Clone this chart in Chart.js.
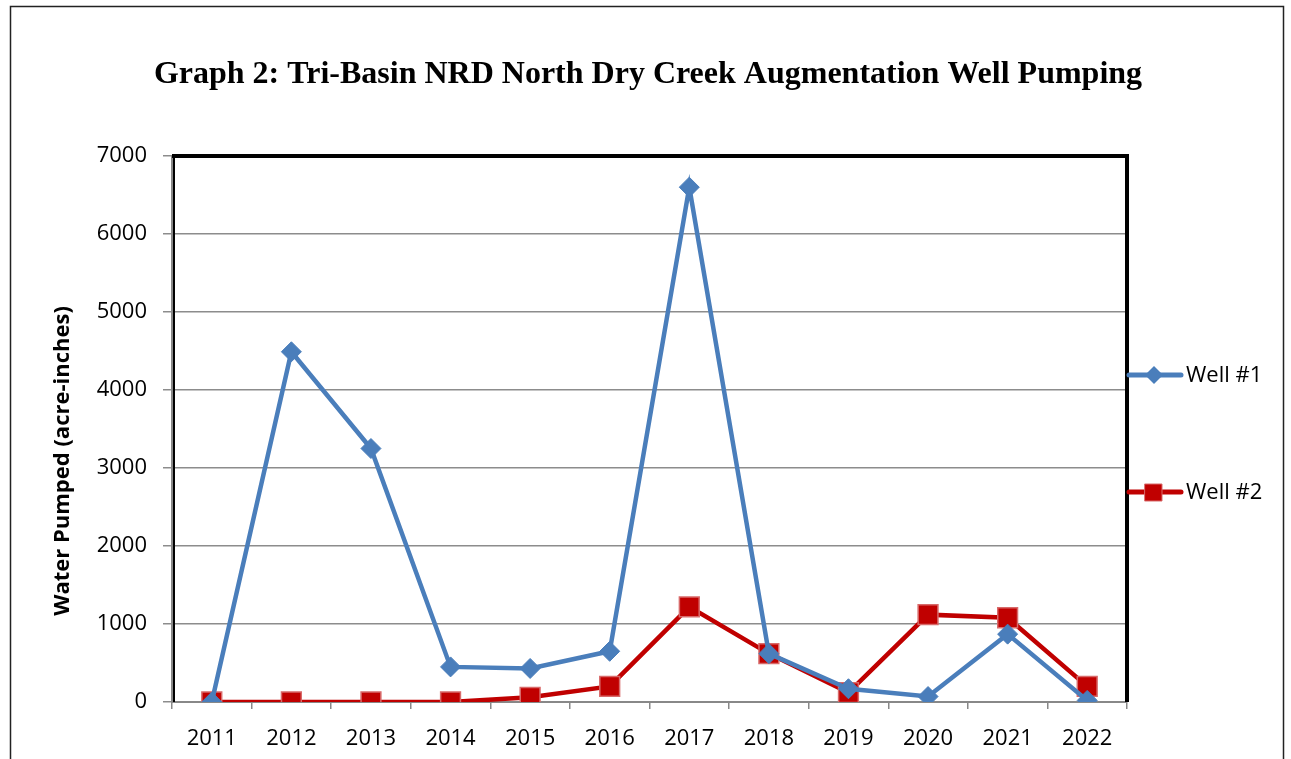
<!DOCTYPE html>
<html>
<head>
<meta charset="utf-8">
<script src="https://cdn.jsdelivr.net/npm/chart.js@4"></script>
<style>
  body { margin: 0; background: #fff; }
  canvas { display: block; }
</style>
</head>
<body>
<canvas id="chart" width="1291" height="759"></canvas>
<script>
const years = ['2011', '2012', '2013', '2014', '2015', '2016', '2017', '2018', '2019', '2020', '2021', '2022'];
const well1 = [0, 4490, 3250, 450, 430, 650, 6600, 620, 170, 70, 870, 20];
const well2 = [0, 0, 0, 0, 60, 200, 1220, 620, 120, 1120, 1080, 200];
const yTicks = [0, 1000, 2000, 3000, 4000, 5000, 6000, 7000];

const chartTitle = 'Graph 2: Tri-Basin NRD North Dry Creek Augmentation Well Pumping';
const yTitle = 'Water Pumped (acre-inches)';

const tickFont = { family: 'Open Sans', size: 22 };

// outer frame, title, y title, plot border and the right-hand legend
const decor = {
    id: 'decor',
    afterDraw(chart) {
        const ctx = chart.ctx;
        const a = chart.chartArea;
        ctx.save();
        ctx.strokeStyle = '#222';
        ctx.lineWidth = 1.5;
        ctx.strokeRect(10.5, 6.5, 1273, 800);

        ctx.fillStyle = '#000';
        ctx.textAlign = 'center';
        ctx.textBaseline = 'alphabetic';
        ctx.font = 'bold 32px "Liberation Serif"';
        ctx.fillText(chartTitle, 648, 83);

        ctx.save();
        ctx.translate(69, 461);
        ctx.rotate(-Math.PI / 2);
        ctx.font = 'bold 22px "Open Sans"';
        ctx.fillText(yTitle, 0, 0);
        ctx.restore();
        ctx.textAlign = 'left';

        ctx.strokeStyle = '#000';
        ctx.lineWidth = 4;
        ctx.beginPath();
        ctx.moveTo(a.left, a.top);
        ctx.lineTo(a.right, a.top);
        ctx.lineTo(a.right, a.bottom);
        ctx.stroke();
        ctx.lineWidth = 2;
        ctx.beginPath();
        ctx.moveTo(a.left + 2, a.top);
        ctx.lineTo(a.left + 2, a.bottom);
        ctx.stroke();

        const rows = [375, 492];
        chart.data.datasets.forEach((ds, i) => {
            const y = rows[i];
            ctx.strokeStyle = ds.borderColor;
            ctx.lineWidth = 5;
            ctx.lineCap = 'round';
            ctx.beginPath();
            ctx.moveTo(1129, y);
            ctx.lineTo(1181, y);
            ctx.stroke();
            ctx.fillStyle = ds.pointBackgroundColor;
            ctx.beginPath();
            if (ds.pointStyle === 'rectRot') {
                ctx.moveTo(1154, y - 9);
                ctx.lineTo(1163, y);
                ctx.lineTo(1154, y + 9);
                ctx.lineTo(1145, y);
                ctx.closePath();
                ctx.fill();
            } else {
                ctx.rect(1145, y - 8, 17, 17);
                ctx.fill();
                ctx.strokeStyle = ds.pointBorderColor;
                ctx.lineWidth = 1;
                ctx.stroke();
            }
            ctx.fillStyle = '#000';
            ctx.font = '22px "Open Sans"';
            ctx.textBaseline = 'middle';
            ctx.fillText(ds.label, 1186, y + 1);
        });
        ctx.restore();
    }
};

new Chart(document.getElementById('chart'), {
    type: 'line',
    data: {
        labels: years,
        datasets: [
            {
                label: 'Well #1',
                data: well1,
                borderColor: '#4a7ebb',
                backgroundColor: '#4a7ebb',
                borderWidth: 4.5,
                pointStyle: 'rectRot',
                pointRadius: 10,
                pointBackgroundColor: '#4a7ebb',
                pointBorderColor: '#4a7ebb',
                pointBorderWidth: 1,
                tension: 0,
            },
            {
                label: 'Well #2',
                data: well2,
                borderColor: '#c00000',
                backgroundColor: '#c00000',
                borderWidth: 4.5,
                pointStyle: 'rect',
                pointRadius: 14,
                pointBackgroundColor: '#c00000',
                pointBorderColor: '#d86a6a',
                pointBorderWidth: 1.5,
                tension: 0,
            },
        ],
    },
    options: {
        responsive: false,
        animation: false,
        layout: { padding: { left: 40, right: 164, top: 156, bottom: 0 } },
        plugins: {
            legend: { display: false },
            tooltip: { enabled: false },
            title: { display: false },
        },
        scales: {
            x: {
                offset: true,
                grid: { display: true, drawOnChartArea: false, offset: true, color: '#888', tickLength: 7, lineWidth: 1.5 },
                border: { color: '#888', width: 2 },
                ticks: { color: '#000', font: tickFont, padding: 17, maxRotation: 0 },
                afterFit(scale) { scale.height = 57; },
            },
            y: {
                min: 0,
                max: 7000,
                afterBuildTicks(scale) { scale.ticks = yTicks.map(v => ({ value: v })); },
                grid: { color: '#8c8c8c', lineWidth: 1.5, tickLength: 9 },
                border: { color: '#888', width: 2 },
                ticks: { color: '#000', font: tickFont, padding: 16, callback: v => String(v) },
                afterFit(scale) { scale.width = 132; },
            },
        },
    },
    plugins: [decor],
});
</script>
</body>
</html>
